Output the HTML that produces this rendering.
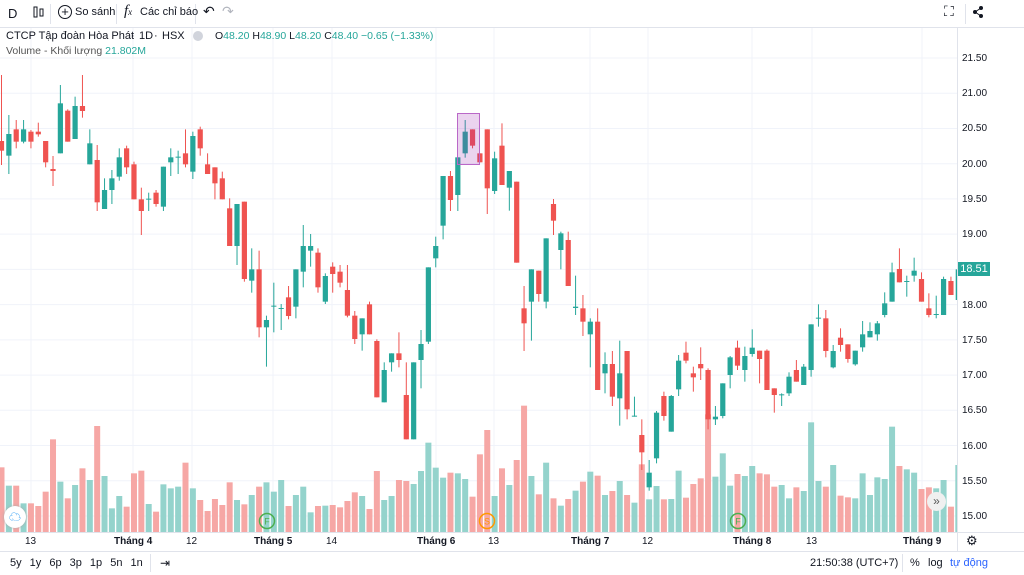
<!DOCTYPE html>
<html><head><meta charset="utf-8">
<style>
body{margin:0;width:1024px;height:575px;overflow:hidden;background:#fff;font-family:"Liberation Sans","Noto Sans CJK SC",sans-serif;color:#131722;position:relative}
.a{position:absolute;white-space:nowrap}
</style></head><body>
<svg id="s" width="1024" height="575" style="position:absolute;left:0;top:0" xmlns="http://www.w3.org/2000/svg"></svg>
<div class="a" style="left:0;top:27px;width:1024px;height:1px;background:#e0e3eb"></div>
<div class="a" style="left:8px;top:6px;font-size:13px">D</div>
<div class="a" style="left:50px;top:4px;width:1px;height:20px;background:#e0e3eb"></div>
<div class="a" style="left:116px;top:4px;width:1px;height:20px;background:#e0e3eb"></div>
<div class="a" style="left:195px;top:4px;width:1px;height:20px;background:#e0e3eb"></div>
<div class="a" style="left:58px;top:5px;width:12px;height:12px;border:1.5px solid #131722;border-radius:50%;font-size:13px;line-height:12px;text-align:center">+</div>
<div class="a" style="left:75px;top:6px;font-size:11px">So sánh</div>
<div class="a" style="left:124px;top:3px;font-size:15px;font-style:italic;font-family:'Liberation Serif',serif">f<span style="font-size:9px">x</span></div>
<div class="a" style="left:140px;top:6px;font-size:11px">Các chỉ báo</div>
<div class="a" style="left:203px;top:3px;font-size:14px">↶</div>
<div class="a" style="left:222px;top:3px;font-size:14px;color:#b2b5be">↷</div>
<div class="a" style="left:944px;top:3px;font-size:14px">⛶</div>
<div class="a" style="left:965px;top:4px;width:1px;height:20px;background:#e0e3eb"></div>
<div class="a" style="left:6px;top:30px;font-size:11px">CTCP Tập đoàn Hòa Phát</div>
<div class="a" style="left:131px;top:30px;font-size:11px">·</div>
<div class="a" style="left:139px;top:30px;font-size:11px">1D</div>
<div class="a" style="left:154px;top:30px;font-size:11px">·</div>
<div class="a" style="left:162px;top:30px;font-size:11px">HSX</div>
<div class="a" style="left:193px;top:31px;width:10px;height:10px;border-radius:50%;background:#d1d4dc"></div>
<div class="a" style="left:215px;top:30px;font-size:10.5px;color:#131722">O<span style="color:#26a69a">48.20</span> H<span style="color:#26a69a">48.90</span> L<span style="color:#26a69a">48.20</span> C<span style="color:#26a69a">48.40</span> <span style="color:#26a69a">−0.65 (−1.33%)</span></div>
<div class="a" style="left:6px;top:45px;font-size:10.5px;color:#555">Volume - Khối lượng <span style="color:#26a69a">21.802M</span></div>
<div id="pl"></div>
<div class="a" style="left:958px;top:262px;width:32px;height:14px;background:#26a69a;color:#fff;font-size:11px;line-height:14px;text-align:center">18.51</div>
<div id="tl"></div>
<div class="a" style="left:0;top:551px;width:1024px;height:1px;background:#e0e3eb"></div>
<div class="a" style="left:10px;top:557px;font-size:11px;word-spacing:5px">5y 1y 6p 3p 1p 5n 1n</div>
<div class="a" style="left:150px;top:554px;width:1px;height:18px;background:#e0e3eb"></div>
<div class="a" style="left:160px;top:556px;font-size:12px">⇥</div>
<div class="a" style="left:810px;top:557px;font-size:11px">21:50:38 (UTC+7)</div>
<div class="a" style="left:902px;top:554px;width:1px;height:18px;background:#e0e3eb"></div>
<div class="a" style="left:910px;top:557px;font-size:11px">%</div>
<div class="a" style="left:928px;top:557px;font-size:11px">log</div>
<div class="a" style="left:950px;top:557px;font-size:11px;color:#2962ff">tự động</div>
<div class="a" style="left:966px;top:533px;font-size:13px">⚙</div>
<div class="a" style="left:927px;top:492px;width:19px;height:19px;border-radius:50%;background:#f0f0f0;font-size:12px;line-height:18px;text-align:center;color:#555">»</div>
<div class="a" style="left:4px;top:506px;width:22px;height:22px;border-radius:50%;background:#fff;box-shadow:0 0 3px #aaa;font-size:12px;line-height:22px;text-align:center;color:#2196f3">☁</div>
<script>
const S=document.getElementById('s');let h='';
for(let i=0;i<14;i++){const y=58+i*35.23;h+=`<line x1="0" x2="957" y1="${y}" y2="${y}" stroke="#f0f3fa"/>`;}
const tx=[[31,'13'],[133,'Tháng 4'],[192,'12'],[273,'Tháng 5'],[332,'14'],[436,'Tháng 6'],[494,'13'],[590,'Tháng 7'],[648,'12'],[752,'Tháng 8'],[812,'13'],[922,'Tháng 9']];
let tl='';
tx.forEach(t=>{h+=`<line x1="${t[0]}" x2="${t[0]}" y1="28" y2="532" stroke="#f0f3fa"/>`;const bold=t[1].length>2;tl+=`<div class="a" style="left:${t[0]-(bold?19:6)}px;top:536px;font-size:10px;${bold?'font-weight:bold':''}">${t[1]}</div>`;});
document.getElementById('tl').innerHTML=tl;
let pl='';const pv=['21.50','21.00','20.50','20.00','19.50','19.00','18.50','18.00','17.50','17.00','16.50','16.00','15.50','15.00'];
pv.forEach((p,i)=>{if(p!=='18.50')pl+=`<div class="a" style="left:962px;top:${58+i*35.23-5}px;font-size:10px">${p}</div>`;});
document.getElementById('pl').innerHTML=pl;
h+=`<line x1="957.5" x2="957.5" y1="28" y2="551" stroke="#e0e3eb"/><line x1="0" x2="1024" y1="532.5" y2="532.5" stroke="#e0e3eb"/>`;
const D=[
['r',183,212,-15,255,1162],['g',162,227,105,282,1217],['r',148,185,120,205,1217],['g',148,185,120,190,1270],['r',155,185,150,205,1270],['r',155,163,128,170,1278],['r',183,247,183,262,1235],['r',267,273,228,318,1078],['g',70,220,15,220,1205],['r',92,185,88,185,1255],['g',78,177,50,177,1215],['r',78,93,-15,113,1165],['g',190,253,148,253,1200],['r',240,367,195,393,1038],['g',330,387,295,387,1188],['g',295,330,270,372,1285],['g',232,290,205,302,1248],['r',205,262,197,282,1280],['r',253,358,245,358,1180],['r',358,393,323,465,1172],['g',356,359,338,393,1272],['r',338,372,330,380,1295],['g',260,380,260,393,1213],['g',232,247,205,288,1225],['g',230,233,212,282,1220],['r',220,253,148,262,1148],['g',168,275,155,297,1225],['r',148,205,140,227,1260],['r',253,282,220,282,1293],['r',262,310,262,358,1257],['r',295,358,275,358,1275],['r',385,498,355,498,1207],['g',372,498,372,555,1260],['r',365,597,365,605,1273],['g',568,602,505,638,1245],['r',568,742,512,772,1220],['g',720,742,707,860,1207],['g',677,680,608,757,1235],['g',684,687,672,750,1200],['r',652,708,618,718,1278],['g',568,680,568,715,1245],['g',498,575,435,622,1220],['g',498,512,462,560,1297],['r',518,622,505,638,1278],
['g',588,665,580,672,1277],['r',560,582,547,638,1275],['r',575,608,555,622,1282],['r',630,707,555,712,1263],['r',707,777,693,792,1237],['g',715,763,715,812,1248],['r',673,763,665,763,1287],['r',783,952,778,952,1173],['g',870,967,847,967,1260],['g',820,847,820,875,1248],['r',820,840,757,862,1200],['r',945,1078,847,1078,1203],['g',847,1078,847,1078,1212],['g',792,840,750,925,1173],['g',562,785,562,792,1088],['g',498,535,470,562,1163],['g',288,437,288,478,1193],['r',288,360,273,393,1178],['g',232,345,232,393,1180],['g',155,220,120,233,1197],['r',148,197,148,205,1250],['r',220,247,220,247,1123],['r',148,325,148,402,1050],['g',235,333,215,342,1248],['r',197,315,130,315,1165],['g',273,323,273,392,1215],['r',305,548,305,548,1140],['r',685,730,618,813,977],['g',568,665,568,782,1188],['r',572,642,572,665,1243],['g',475,665,475,685,1148],['r',372,422,357,465,1255],['g',460,510,455,568,1277],['r',480,618,455,618,1257],['g',680,684,587,705,1232],['r',685,725,645,768,1205],['g',725,763,715,862,1175],['r',725,930,685,930,1187],['g',852,880,817,940,1245],['r',852,950,813,978,1233],['g',880,955,782,1037,1203],['r',813,988,813,1018,1245],['g',1007,1010,950,1010,1268],
['r',1065,1117,1018,1170,1153],['g',1178,1222,1140,1232,1258],['g',998,1135,993,1150,1218],['r',948,1008,935,1022,1258],['g',948,1055,945,1055,1257],['g',842,928,825,948,1172],['r',818,842,785,850,1253],['r',880,892,860,935,1212],['r',852,865,802,900,1195],['r',870,1018,865,1048,1003],['g',1010,1018,978,1035,1190],['g',910,1008,910,1015,1120],['g',832,885,828,925,1217],['r',803,857,782,870,1182],['g',828,870,800,905,1188],['g',803,822,748,830,1158],['r',812,837,812,910,1180],['r',812,930,808,930,1183],['r',925,945,925,998,1220],['g',943,946,940,978,1215],['g',890,940,877,948,1255],['r',870,905,840,905,1222],['g',860,915,852,915,1233],['g',733,870,733,890,1027],['g',713,716,673,740,1203],['r',715,813,690,832,1220],['g',813,862,795,865,1155],['r',773,795,745,815,1247],['r',793,837,793,848,1252],['g',812,853,812,857,1255],['g',763,802,723,815,1180],['g',753,772,727,772,1245],['g',730,763,723,782,1192],['g',670,705,637,712,1197],['g',577,665,548,665,1040],['r',567,607,505,607,1158],['g',603,606,587,650,1168],['g',572,587,533,605,1178],['r',597,665,577,665,1227],['r',685,705,640,712,1222],['g',702,705,647,715,1225],['g',597,705,590,705,1200],['r',603,645,590,645,1280],['g',568,660,550,662,1155]
];
const Y=z=>80+z/3;
let v='',c='';
D.forEach((d,i)=>{const x=1.5+i*7.36;const g=d[0]=='g';const col=g?'#26a69a':'#ef5350';const vc=g?'#94d3cc':'#f6a7a5';
const vt=Y(d[5]);v+=`<rect x="${x-3}" y="${vt}" width="6" height="${532-vt}" fill="${vc}"/>`;
c+=`<line x1="${x}" x2="${x}" y1="${Y(d[3])}" y2="${Y(d[4])}" stroke="${col}" stroke-width="1"/>`;
const bt=Y(d[1]),bb=Y(d[2]);c+=`<rect x="${x-2.6}" y="${bt}" width="5.2" height="${Math.max(1,bb-bt)}" fill="${col}"/>`;});
h+=`<g clip-path="url(#cp)">${v}${c}</g><defs><clipPath id="cp"><rect x="0" y="28" width="957" height="504"/></clipPath></defs>`;
h+=`<rect x="457.5" y="113.5" width="22" height="51" fill="rgba(156,39,176,0.2)" stroke="#ba68c8"/>`;
[[267,'#4caf50','F'],[487,'#ff9800','S'],[738,'#4caf50','F']].forEach(m=>{h+=`<circle cx="${m[0]}" cy="521" r="7.5" fill="none" stroke="${m[1]}" stroke-width="1.5"/><text x="${m[0]}" y="524.5" font-size="9" text-anchor="middle" fill="${m[1]}" font-family="Liberation Sans">${m[2]}</text>`;});
h+=`<circle cx="975" cy="12" r="2" fill="#131722"/><circle cx="981" cy="8" r="2" fill="#131722"/><circle cx="981" cy="16" r="2" fill="#131722"/><line x1="975" y1="12" x2="981" y2="8" stroke="#131722"/><line x1="975" y1="12" x2="981" y2="16" stroke="#131722"/>`;
h+=`<rect x="34" y="7" width="3" height="10" fill="none" stroke="#131722"/><rect x="40" y="9" width="3" height="7" fill="none" stroke="#131722"/>`;
S.innerHTML=h;
</script>
</body></html>
